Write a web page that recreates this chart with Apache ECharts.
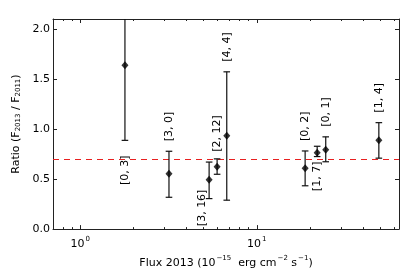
<!DOCTYPE html>
<html>
<head>
<meta charset="utf-8">
<script src="https://cdn.jsdelivr.net/npm/echarts@6/dist/echarts.min.js"></script>
<style>html,body{margin:0;padding:0;background:#fff}#c{width:407px;height:274px}</style>
</head>
<body>
<div id="c"></div>
<script>
// ---- data ----
const flux2013   = [1.79, 3.18, 5.37, 5.96, 6.76, 18.8, 22.0, 24.6, 49.2];
const ratio      = [1.638, 0.552, 0.493, 0.624, 0.932, 0.607, 0.762, 0.794, 0.887];
const ratioLow   = [0.887, 0.318, 0.305, 0.548, 0.289, 0.433, 0.725, 0.673, 0.709];
const ratioHigh  = [2.45, 0.778, 0.670, 0.702, 1.572, 0.781, 0.828, 0.922, 1.064];
const pointLabels = ['[0, 3]', '[3, 0]', '[3, 16]', '[2, 12]', '[4, 4]', '[0, 2]', '[1, 7]', '[0, 1]', '[1, 4]'];
const labelSide  = ['below', 'above', 'below', 'above', 'above', 'above', 'below', 'above', 'above'];
const refRatio = 0.7;
const xMajorTicks = [1, 10];
const xMinorTicks = [0.8, 0.9, 2, 3, 4, 5, 6, 7, 8, 9, 20, 30, 40, 50, 60];
const yTicks = [0, 0.5, 1.0, 1.5, 2.0];

// ---- label layout (pixels) ----
const labelGap = [15, 10, -9, 7, 10, 10, 5, 10, 10];
const labelDx  = [0, 0, -7, 0, 0, 0, 0, 0, 0];

const FONT = 'DejaVu Sans';
const AX = '#222';
const REF = '#e82020';
const supRich = {
  b: {fontFamily: FONT, fontSize: 11, color: '#000', lineHeight: 14, verticalAlign: 'bottom'},
  sup: {fontFamily: FONT, fontSize: 7, color: '#000', lineHeight: 14, verticalAlign: 'top', padding: [0, 0, 0, 1]},
  sub: {fontFamily: FONT, fontSize: 7, color: '#000', lineHeight: 14, verticalAlign: 'bottom'}
};

const chart = echarts.init(document.getElementById('c'), null, {renderer: 'canvas'});
const xBase = {type: 'log', logBase: 10, min: 0.7, max: 64, splitLine: {show: false}, minorTick: {show: false}, minorSplitLine: {show: false}};

const errData = flux2013.map((x, i) => [x, ratioLow[i], ratioHigh[i]]);

chart.setOption({
  animation: false,
  grid: {left: 53, right: 8, top: 19, bottom: 42, containLabel: false},
  xAxis: [
    Object.assign({}, xBase, {
      position: 'bottom',
      axisLine: {show: true, lineStyle: {color: AX, width: 1}},
      axisTick: {show: true, inside: true, length: 4, customValues: xMajorTicks, lineStyle: {color: AX}},
      axisLabel: {show: true, customValues: xMajorTicks, margin: 7,
        formatter: v => '{b|10}{sup|' + Math.round(Math.log10(v)) + '}', rich: supRich},
      name: '{b|Flux 2013 (10}{sup|\u221215}{b|  erg cm}{sup|\u22122}{b| s}{sup|\u22121}{b|)}',
      nameLocation: 'middle', nameGap: 24,
      nameTextStyle: {rich: supRich}
    }),
    Object.assign({}, xBase, {
      position: 'bottom',
      axisLine: {show: false},
      axisTick: {show: true, inside: true, length: 2, customValues: xMinorTicks, lineStyle: {color: AX}},
      axisLabel: {show: false}
    }),
    Object.assign({}, xBase, {
      position: 'top',
      axisLine: {show: true, lineStyle: {color: AX, width: 1}},
      axisTick: {show: true, inside: true, length: 4, customValues: xMajorTicks, lineStyle: {color: AX}},
      axisLabel: {show: false}
    }),
    Object.assign({}, xBase, {
      position: 'top',
      axisLine: {show: false},
      axisTick: {show: true, inside: true, length: 2, customValues: xMinorTicks, lineStyle: {color: AX}},
      axisLabel: {show: false}
    })
  ],
  yAxis: [
    {
      type: 'value', min: 0, max: 2.1, position: 'left',
      splitLine: {show: false},
      axisLine: {show: true, lineStyle: {color: AX, width: 1}},
      axisTick: {show: true, inside: true, length: 4, customValues: yTicks, lineStyle: {color: AX}},
      axisLabel: {show: true, customValues: yTicks, margin: 3, formatter: v => v.toFixed(1),
        fontFamily: FONT, fontSize: 11, color: '#000'},
      name: '{b|Ratio (F}{sub|2013}{b| / F}{sub|2011}{b|)}',
      nameLocation: 'middle', nameRotate: 90, nameGap: 21,
      nameTextStyle: {rich: supRich}
    },
    {
      type: 'value', min: 0, max: 2.1, position: 'right',
      splitLine: {show: false},
      axisLine: {show: true, lineStyle: {color: AX, width: 1}},
      axisTick: {show: true, inside: true, length: 4, customValues: yTicks, lineStyle: {color: AX}},
      axisLabel: {show: false}
    }
  ],
  series: [
    {
      // reference ratio line, spanning the full plot width
      type: 'custom', xAxisIndex: 0, yAxisIndex: 0, clip: true,
      data: [[flux2013[0], refRatio]],
      renderItem: function (params, api) {
        const cs = params.coordSys;
        const y = Math.round(api.coord([api.value(0), api.value(1)])[1]) + 0.5;
        return {
          type: 'line',
          shape: {x1: cs.x, y1: y, x2: cs.x + cs.width, y2: y},
          style: {stroke: REF, lineWidth: 1, lineDash: [6, 5]}
        };
      },
      z: 2
    },
    {
      type: 'custom', xAxisIndex: 0, yAxisIndex: 0, clip: true,
      data: errData,
      renderItem: function (params, api) {
        const x = api.value(0);
        const top = api.coord([x, api.value(2)]);
        const bot = api.coord([x, api.value(1)]);
        const st = {stroke: '#111', lineWidth: 1.2};
        const cw = 3.3;
        return {
          type: 'group',
          children: [
            {type: 'line', shape: {x1: top[0], y1: top[1], x2: bot[0], y2: bot[1]}, style: st},
            {type: 'line', shape: {x1: top[0] - cw, y1: top[1], x2: top[0] + cw, y2: top[1]}, style: st},
            {type: 'line', shape: {x1: bot[0] - cw, y1: bot[1], x2: bot[0] + cw, y2: bot[1]}, style: st}
          ]
        };
      },
      z: 3
    },
    {
      type: 'scatter', xAxisIndex: 0, yAxisIndex: 0,
      data: flux2013.map((x, i) => [x, ratio[i]]),
      symbol: 'diamond', symbolSize: [7, 8],
      itemStyle: {color: '#000'},
      z: 4
    },
    {
      type: 'custom', xAxisIndex: 0, yAxisIndex: 0, clip: false,
      data: errData,
      renderItem: function (params, api) {
        const i = params.dataIndex;
        const x = api.value(0);
        const above = labelSide[i] === 'above';
        const end = api.coord([x, above ? api.value(2) : api.value(1)]);
        return {
          type: 'text',
          x: end[0] + labelDx[i],
          y: end[1] + (above ? -labelGap[i] : labelGap[i]),
          rotation: Math.PI / 2,
          style: {
            text: pointLabels[i], fontFamily: FONT, fontSize: 11, fill: '#000',
            align: above ? 'left' : 'right', verticalAlign: 'middle'
          }
        };
      },
      z: 5
    }
  ]
});
</script>
</body>
</html>
